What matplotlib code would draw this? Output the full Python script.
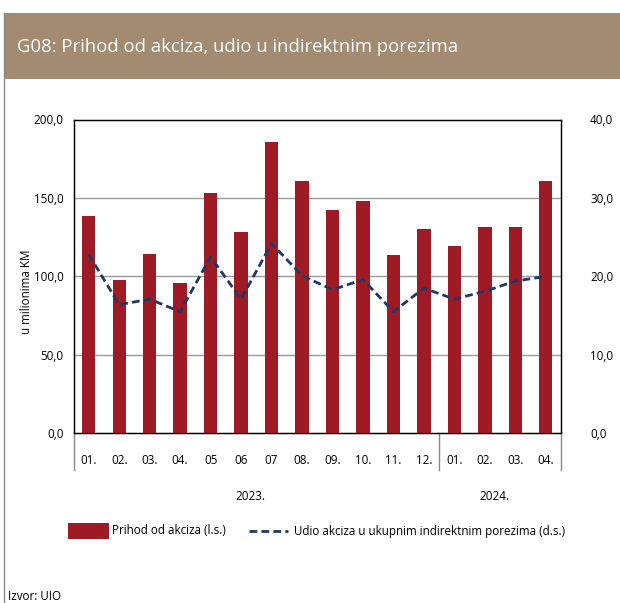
import matplotlib
matplotlib.use("Agg")
import matplotlib.pyplot as plt
from matplotlib.patches import Rectangle
from matplotlib.lines import Line2D
import numpy as np

categories = ["01.", "02.", "03.", "04.", "05", "06", "07", "08.", "09.", "10.", "11.", "12.",
              "01.", "02.", "03.", "04."]
years = ["2023.", "2024."]
year_counts = [12, 4]
prihod = [138.6, 97.4, 114.5, 95.5, 153.0, 128.0, 185.6, 160.5, 142.5, 148.2, 113.7, 130.0,
          119.3, 131.7, 131.7, 160.5]
udio = [22.8, 16.4, 17.1, 15.5, 22.5, 17.1, 24.2, 20.1, 18.3, 19.6, 15.5, 18.5,
        17.1, 18.1, 19.4, 20.0]
left_ticks = [0, 50, 100, 150, 200]
right_ticks = [0, 10, 20, 30, 40]

FONT = ["Open Sans", "DejaVu Sans"]
plt.rcParams["font.family"] = FONT
FS = 8.4

W, H = 620, 603
fig = plt.figure(figsize=(W / 100, H / 100), dpi=100)

def fx(x):
    return x / W

def fy(y):
    return 1 - y / H

BAR = "#9E1B25"
LINE = "#1F3864"
DASH = (0, (2.8, 1.5))
LW = 2.0

# header band
fig.patches.append(Rectangle((fx(3.5), fy(79)), fx(620) - fx(3.5), fy(13) - fy(79),
                             transform=fig.transFigure, facecolor="#A28B70", edgecolor="none"))
fig.text(fx(17), fy(47), "G08: Prihod od akciza, udio u indirektnim porezima",
         color="white", fontsize=13.3, va="center", ha="left")
# left frame line
fig.lines.append(Line2D([fx(3.5), fx(3.5)], [fy(13), fy(603)], transform=fig.transFigure,
                        color="#888888", lw=1))

AX_L, AX_R, AX_T, AX_B = 73.5, 561, 119.5, 433.3
ax = fig.add_axes([fx(AX_L), fy(AX_B), fx(AX_R) - fx(AX_L), fy(AX_T) - fy(AX_B)])
x = np.arange(len(categories))
ax.bar(x, prihod, width=0.44, color=BAR, zorder=3)
ax.set_xlim(-0.5, len(categories) - 0.5)
ax.set_ylim(0, 200)
ax.set_yticks(left_ticks)
ax.set_yticklabels([f"{v:.1f}".replace(".", ",") for v in left_ticks], fontsize=FS)
ax.tick_params(axis="y", length=0, pad=7)
ax.set_xticks([])
for v in left_ticks[1:-1]:
    ax.axhline(v, color="#9a9a9a", lw=1, zorder=1)
for s in ax.spines.values():
    s.set_color("black")
    s.set_linewidth(1)
fig.text(fx(27), fy(292), "u milionima KM", fontsize=FS, rotation=90, va="center", ha="center")

ax2 = ax.twinx()
ax2.plot(x, udio, color=LINE, lw=LW, ls=DASH, zorder=4)
ax2.set_ylim(0, 40)
ax2.set_yticks(right_ticks)
ax2.set_yticklabels([f"{v:.1f}".replace(".", ",") for v in right_ticks], fontsize=FS)
ax2.tick_params(axis="y", length=0, pad=21)
ax2.set_xlim(-0.5, len(categories) - 0.5)

# category labels and separators
trans = ax.get_xaxis_transform()
span = AX_B - AX_T
sep_y1 = (AX_B - 470) / span
cat_y = (AX_B - 460) / span
year_y = (AX_B - 497) / span
for i, c in enumerate(categories):
    ax.text(i, cat_y, c, transform=trans, ha="center", va="center", fontsize=FS)
bounds = np.concatenate([[0], np.cumsum(year_counts)]) - 0.5
for b in bounds:
    ax.add_line(Line2D([b, b], [0, sep_y1], transform=trans, color="#888888", lw=1,
                       clip_on=False))
for yr, a, b in zip(years, bounds[:-1], bounds[1:]):
    ax.text((a + b) / 2 - 0.2, year_y, yr, transform=trans, ha="center", va="center", fontsize=FS)

# legend
fig.patches.append(Rectangle((fx(68), fy(539)), fx(109) - fx(68), fy(523) - fy(539),
                             transform=fig.transFigure, facecolor=BAR, edgecolor="none"))
fig.text(fx(112), fy(531), "Prihod od akciza (l.s.)", fontsize=FS, va="center", ha="left")
fig.lines.append(Line2D([fx(249), fx(288)], [fy(531), fy(531)], transform=fig.transFigure,
                        color=LINE, lw=LW, ls=DASH))
fig.text(fx(294), fy(531), "Udio akciza u ukupnim indirektnim porezima (d.s.)", fontsize=FS,
         va="center", ha="left")

fig.text(fx(8), fy(597), "Izvor: UIO", fontsize=FS, va="center", ha="left")

fig.savefig("out.png", dpi=100)
